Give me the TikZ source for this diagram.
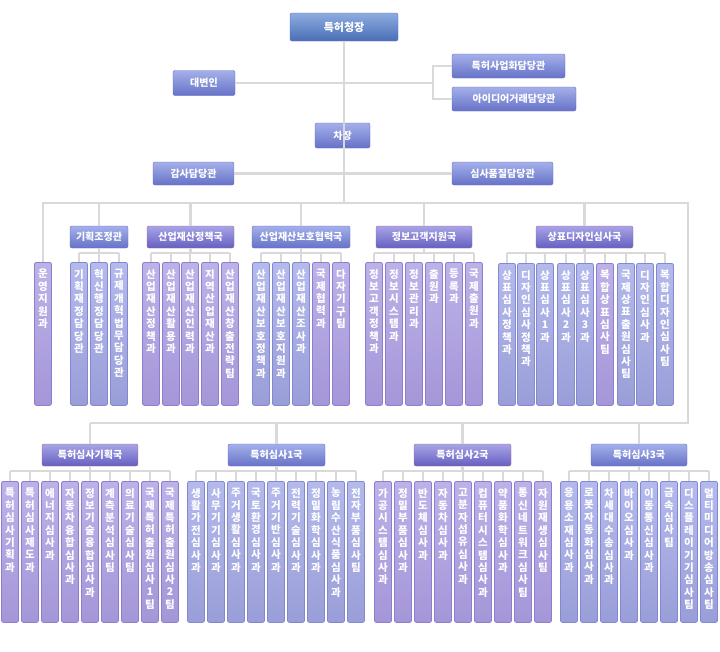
\documentclass[tikz,border=0pt]{standalone}
\usepackage{fontspec}
\setmainfont{Noto Sans CJK KR}
\makeatletter
\def\vstackA#1{\ifx\relax#1\else\hbox to 12pt{\hss#1\hss}\expandafter\vstackA\fi}
\newcommand\vstk[1]{\vbox{\baselineskip=12.4pt\vstackA#1\relax}}
\makeatother
\definecolor{ln}{HTML}{D9D9D9}
\tikzset{
 line/.style={draw=ln,line width=2.6pt},
 hb/.style={rounded corners=2pt,draw=#1!70!black!60!white,text=white,font=\bfseries\fontsize{10}{12}\selectfont,minimum height=23pt,inner sep=0pt},
 hblue/.style={hb=blue,top color=#1,bottom color=#1!60!black},
 purplebox/.style={hb=violet,top color=HdA,bottom color=HdB},
 bluebox/.style={hb=blue,top color=HbA,bottom color=HbB},
 colp/.style={rounded corners=2pt,draw=CpD,line width=0.8pt,top color=CpA,bottom color=CpB,minimum width=17pt,inner sep=0pt,anchor=north},
 colb/.style={rounded corners=2pt,draw=CbD,line width=0.8pt,top color=CbA,bottom color=CbB,minimum width=17pt,inner sep=0pt,anchor=north},
 ctext/.style={anchor=north,inner sep=0pt,text=white,font=\bfseries\fontsize{10.5}{12}\selectfont},
}
\definecolor{HdA}{HTML}{A8A4E6}\definecolor{HdB}{HTML}{6660C0}
\definecolor{HbA}{HTML}{A4B0EA}\definecolor{HbB}{HTML}{6672C6}
\definecolor{CpA}{HTML}{BDB2E8}\definecolor{CpB}{HTML}{A596D8}\definecolor{CpD}{HTML}{8C7FD0}
\definecolor{CbA}{HTML}{B4BAEC}\definecolor{CbB}{HTML}{9A9ED8}\definecolor{CbD}{HTML}{8488D0}
\definecolor{TopA}{HTML}{8CACE0}\definecolor{TopB}{HTML}{4A6EB6}
% \colnode{style}{name}{x}{top}{height}{text}
\newcommand\colnode[6]{%
 \node[#1,minimum height=#5pt] (#2) at (#3,#4) {};
 \node[ctext] (#2-t) at ([yshift=-7pt]#2.north) {\vstk{#6}};}
\begin{document}
\begin{tikzpicture}[x=1pt,y=-1pt]
\useasboundingbox (0,0) rectangle (720,651);
% top
\node[hb=blue,top color=TopA,bottom color=TopB,minimum width=108pt,minimum height=28pt,font=\bfseries\fontsize{11}{13}\selectfont] (root) at (344,27) {특허청장};
\node[bluebox,minimum width=62pt,minimum height=25pt] (dbi) at (204,83) {대변인};
\node[bluebox,minimum width=113pt,minimum height=24pt] (tsa) at (508.5,66) {특허사업화담당관};
\node[bluebox,minimum width=124pt,minimum height=24pt] (idea) at (514,99) {아이디어거래담당관};
\node[bluebox,minimum width=55pt,minimum height=25pt] (vice) at (342.5,135.5) {차장};
\node[bluebox,minimum width=81pt,minimum height=23pt] (gam) at (193.5,173.5) {감사담당관};
\node[bluebox,minimum width=101pt,minimum height=23pt] (qual) at (502.5,173.5) {심사품질담당관};
\coordinate (br) at (433,83);
\begin{scope}[on background layer/.try]
\end{scope}
\draw[line] (root.south) -- (root.south |- 0,203) coordinate (h1);
\draw[line] (dbi.east) -- (br);
\draw[line] (tsa.west) -| (br) |- (idea.west);
\draw[line] (gam.east) -- (qual.west);
\coordinate (hl) at (42,203); \coordinate (hr) at (688,203); \coordinate (bl) at (90,423); \coordinate (brr) at (688,423);
\draw[line] (hl) -- (hr) -- (brr) -- (bl);
% row 1 headers
\node[bluebox,minimum width=58pt,minimum height=22pt] (g1) at (99,237) {기획조정관};
\node[purplebox,minimum width=87pt,minimum height=22pt] (g2) at (190.5,237) {산업재산정책국};
\node[bluebox,minimum width=98pt,minimum height=22pt] (g3) at (301,237) {산업재산보호협력국};
\node[purplebox,minimum width=96pt,minimum height=22pt] (g4) at (424,237) {정보고객지원국};
\node[purplebox,minimum width=97pt,minimum height=22pt] (g5) at (584.5,237) {상표디자인심사국};
\foreach \g in {g1,g2,g3,g4,g5} \draw[line] (\g.north) -- (\g.north |- hl);
% row 1 columns
\colnode{colp}{u}{43}{262}{143}{운영지원과}
\draw[line] (u.north) -- (u.north |- hl);
\colnode{colb}{a1}{79}{262}{143}{기획재정담당관}
\colnode{colb}{a2}{99}{262}{143}{혁신행정담당관}
\colnode{colb}{a3}{119}{262}{143}{규제개혁법무담당관}
\colnode{colp}{b1}{151}{262}{143}{산업재산정책과}
\colnode{colp}{b2}{171}{262}{143}{산업재산활용과}
\colnode{colp}{b3}{190}{262}{143}{산업재산인력과}
\colnode{colp}{b4}{210}{262}{143}{지역산업재산과}
\colnode{colp}{b5}{230}{262}{143}{산업재산창출전략팀}
\colnode{colb}{c1}{261}{262}{143}{산업재산보호정책과}
\colnode{colb}{c2}{281}{262}{143}{산업재산보호지원과}
\colnode{colb}{c3}{301}{262}{143}{산업재산조사과}
\colnode{colp}{c4}{321}{262}{143}{국제협력과}
\colnode{colp}{c5}{341}{262}{143}{다자기구팀}
\colnode{colp}{d1}{374}{262}{143}{정보고객정책과}
\colnode{colp}{d2}{394}{262}{143}{정보시스템과}
\colnode{colp}{d3}{414}{262}{143}{정보관리과}
\colnode{colp}{d4}{434}{262}{143}{출원과}
\colnode{colp}{d5}{454}{262}{143}{등록과}
\colnode{colp}{d6}{474}{262}{143}{국제출원과}
\colnode{colb}{e1}{507}{263}{142}{상표심사정책과}
\colnode{colb}{e2}{526}{263}{142}{디자인심사정책과}
\colnode{colb}{e3}{545}{263}{142}{상표심사1과}
\colnode{colb}{e4}{566}{263}{142}{상표심사2과}
\colnode{colb}{e5}{585}{263}{142}{상표심사3과}
\colnode{colp}{e6}{605}{263}{142}{복합상표심사팀}
\colnode{colb}{e7}{626}{263}{142}{국제상표출원심사팀}
\colnode{colb}{e8}{645}{263}{142}{디자인심사과}
\colnode{colb}{e9}{665}{263}{142}{복합디자인심사팀}
\coordinate (y1) at (0,253);
\foreach \p/\f/\l/\cs in {g1/a1/a3/{a1,a2,a3},g2/b1/b5/{b1,b2,b3,b4,b5},g3/c1/c5/{c1,c2,c3,c4,c5},g4/d1/d6/{d1,d2,d3,d4,d5,d6},g5/e1/e9/{e1,e2,e3,e4,e5,e6,e7,e8,e9}}{
 \draw[line] (\p.south) -- (\p.south |- y1);
 \draw[line] (\f.north |- y1) -- (\l.north |- y1);
 \foreach \c in \cs \draw[line] (\c.north) -- (\c.north |- y1);
}
% row 2 headers
\node[purplebox,minimum width=96pt,minimum height=22pt] (k0) at (90,455) {특허심사기획국};
\node[bluebox,minimum width=97pt,minimum height=22pt] (k1) at (276.5,455) {특허심사1국};
\node[purplebox,minimum width=97pt,minimum height=22pt] (k2) at (462.5,455) {특허심사2국};
\node[bluebox,minimum width=96pt,minimum height=22pt] (k3) at (639,455) {특허심사3국};
\foreach \g in {k0,k1,k2,k3} \draw[line] (\g.north) -- (\g.north |- bl);
% row 2 columns
\colnode{colp}{p1}{10}{481}{141}{특허심사기획과}
\colnode{colp}{p2}{30}{481}{141}{특허심사제도과}
\colnode{colp}{p3}{50}{481}{141}{에너지심사과}
\colnode{colp}{p4}{70}{481}{141}{자동차융합심사과}
\colnode{colp}{p5}{90}{481}{141}{정보기술융합심사과}
\colnode{colp}{p6}{110}{481}{141}{계측분석심사팀}
\colnode{colp}{p7}{130}{481}{141}{의료기술심사팀}
\colnode{colp}{p8}{150}{481}{141}{국제특허출원심사1팀}
\colnode{colp}{p9}{170}{481}{141}{국제특허출원심사2팀}
\colnode{colb}{q1}{196}{481}{141}{생활가전심사과}
\colnode{colb}{q2}{216}{481}{141}{사무기기심사과}
\colnode{colb}{q3}{236}{481}{141}{주거생활심사과}
\colnode{colb}{q4}{256}{481}{141}{국토환경심사과}
\colnode{colb}{q5}{276}{481}{141}{주거기반심사과}
\colnode{colb}{q6}{296}{481}{141}{전력기술심사과}
\colnode{colb}{q7}{316}{481}{141}{정밀화학심사과}
\colnode{colb}{q8}{336}{481}{141}{농림수산식품심사과}
\colnode{colb}{q9}{356}{481}{141}{전자부품심사팀}
\colnode{colp}{r1}{383}{481}{141}{가공시스템심사과}
\colnode{colp}{r2}{403}{481}{141}{정밀부품심사과}
\colnode{colp}{r3}{423}{481}{141}{반도체심사과}
\colnode{colp}{r4}{443}{481}{141}{자동차심사과}
\colnode{colp}{r5}{463}{481}{141}{고분자섬유심사과}
\colnode{colp}{r6}{483}{481}{141}{컴퓨터시스템심사과}
\colnode{colp}{r7}{503}{481}{141}{약품화학심사과}
\colnode{colp}{r8}{523}{481}{141}{통신네트워크심사팀}
\colnode{colp}{r9}{543}{481}{141}{자원재생심사팀}
\colnode{colb}{s1}{569}{481}{141}{응용소재심사과}
\colnode{colb}{s2}{589}{481}{141}{로봇자동화심사과}
\colnode{colb}{s3}{609}{481}{141}{차세대수송심사과}
\colnode{colb}{s4}{629}{481}{141}{바이오심사과}
\colnode{colb}{s5}{649}{481}{141}{이동통신심사과}
\colnode{colb}{s6}{669}{481}{141}{금속심사팀}
\colnode{colb}{s7}{689}{481}{141}{디스플레이기기심사팀}
\colnode{colb}{s8}{709}{481}{141}{멀티미디어방송심사팀}
\coordinate (y2) at (0,471);
\foreach \p/\f/\l/\cs in {k0/p1/p9/{p1,p2,p3,p4,p5,p6,p7,p8,p9},k1/q1/q9/{q1,q2,q3,q4,q5,q6,q7,q8,q9},k2/r1/r9/{r1,r2,r3,r4,r5,r6,r7,r8,r9},k3/s1/s8/{s1,s2,s3,s4,s5,s6,s7,s8}}{
 \draw[line] (\p.south) -- (\p.south |- y2);
 \draw[line] (\f.north |- y2) -- (\l.north |- y2);
 \foreach \c in \cs \draw[line] (\c.north) -- (\c.north |- y2);
}
\end{tikzpicture}
\end{document}
